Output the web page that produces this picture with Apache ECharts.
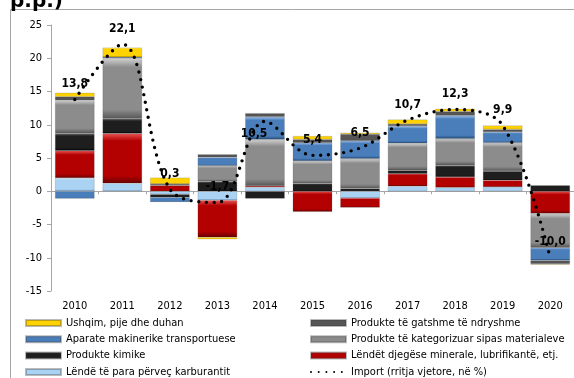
<!DOCTYPE html>
<html>
<head>
<meta charset="utf-8">
<script src="https://cdn.jsdelivr.net/npm/echarts@6/dist/echarts.min.js"></script>
<style>
  html, body { margin: 0; padding: 0; background: #ffffff; }
  #chart { width: 574px; height: 378px; }
</style>
</head>
<body>
<div id="chart"></div>
<script>
// Categories
const years = ['2010', '2011', '2012', '2013', '2014', '2015', '2016', '2017', '2018', '2019', '2020'];

// Contributions by product group (stacked from the bottom up in this order)
const lendeTePara   = [2.0, 1.2, -0.45, -1.35, 0.6, 0.0, -1.0, 0.75, 0.55, 0.65, 0.0];
const lendetDjegese = [4.1, 7.5, 0.85, -5.55, 0.2, -3.1, -1.45, 1.9, 1.6, 1.0, -3.35];
const produkteKimike = [2.6, 2.2, -0.45, 1.45, -1.1, 1.15, 0.4, 0.5, 1.75, 1.4, 0.9];
const produkteKategorizuar = [5.0, 9.1, 0.0, 2.4, 7.0, 3.4, 4.5, 4.05, 4.0, 4.25, -5.15];
const aparateMakinerike = [-1.1, 0.15, -0.7, 1.25, 3.4, 2.75, 2.7, 2.6, 3.5, 1.6, -1.9];
const produkteGatshme = [0.5, 0.0, 0.25, 0.45, 0.5, 0.5, 1.0, 0.3, 0.6, 0.4, -0.5];
const ushqimPije = [0.6, 1.45, 0.95, -0.3, 0.0, 0.5, 0.2, 0.7, 0.4, 0.6, -0.1];

// Annual import growth, %
const importRritja = [13.8, 22.1, 0.3, -1.7, 10.5, 5.4, 6.5, 10.7, 12.3, 9.9, -10.0];

// Axis ticks
const yMin = -15, yMax = 25, yStep = 5;

const FONT = '"DejaVu Sans Condensed", "DejaVu Sans", sans-serif';

function bevel(light, base, dark) {
  return {
    type: 'linear', x: 0, y: 0, x2: 0, y2: 1,
    colorStops: [
      { offset: 0, color: light },
      { offset: 0.15, color: base },
      { offset: 0.85, color: base },
      { offset: 1, color: dark }
    ]
  };
}

const groups = [
  { name: 'Lëndë të para përveç karburantit', data: lendeTePara, c: bevel('#e8f4ff', '#a9d2f3', '#6f98c0') },
  { name: 'Lëndët djegëse minerale, lubrifikantë, etj.', data: lendetDjegese, c: bevel('#ec5555', '#b30000', '#6a0000') },
  { name: 'Produkte kimike', data: produkteKimike, c: bevel('#707070', '#1e1e1e', '#000000') },
  { name: 'Produkte të kategorizuar sipas materialeve', data: produkteKategorizuar, c: bevel('#d2d2d2', '#8c8c8c', '#555555') },
  { name: 'Aparate makinerike transportuese', data: aparateMakinerike, c: bevel('#a2c4ee', '#4a7ebb', '#244b78') },
  { name: 'Produkte të gatshme të ndryshme', data: produkteGatshme, c: bevel('#9a9a9a', '#555555', '#2a2a2a') },
  { name: 'Ushqim, pije dhe duhan', data: ushqimPije, c: bevel('#fff596', '#ffd200', '#b08c00') }
];

const barSeries = groups.map(g => ({
  name: g.name,
  type: 'bar',
  stack: 'total',
  xAxisIndex: 0,
  barCategoryGap: '17%',
  data: g.data,
  itemStyle: { color: g.c, borderColor: 'rgba(60,60,60,0.35)', borderWidth: 0.5 },
  emphasis: { disabled: true }
}));

const labelCfg = importRritja.map((v, i) => {
  const item = { value: v };
  if (i === 4) {
    item.label = { position: 'bottom', distance: 6, offset: [-11, 0] };
  }
  return item;
});

const lineSeries = {
  name: 'Import (rritja vjetore, në %)',
  type: 'line',
  xAxisIndex: 0,
  smooth: 0.35,
  symbol: 'circle',
  symbolSize: 1,
  itemStyle: { color: 'rgba(0,0,0,0)' },
  lineStyle: { color: '#000000', width: 3.4, type: [0, 7.7], cap: 'round' },
  data: labelCfg,
  z: 5,
  label: {
    show: true,
    position: 'top',
    distance: 9,
    fontFamily: FONT,
    fontSize: 12,
    fontWeight: 'bold',
    color: '#000000',
    formatter: p => p.value.toFixed(1).replace('.', ',')
  },
  emphasis: { disabled: true }
};

const legendText = { fontFamily: FONT, fontSize: 11, color: '#000000', lineHeight: 14 };
const legendBase = {
  orient: 'vertical', top: 316, height: 70, padding: 0,
  itemWidth: 35, itemHeight: 6, itemGap: 2.3,
  textStyle: legendText
};

const chart = echarts.init(document.getElementById('chart'), null, { renderer: 'canvas' });
chart.setOption({
  animation: false,
  backgroundColor: '#ffffff',
  grid: { left: 51, top: 25, width: 527, height: 266, containLabel: false },
  xAxis: [
    {
      type: 'category',
      data: years,
      position: 'bottom',
      axisLine: { show: false, onZero: false },
      axisTick: { show: false },
      axisLabel: { fontFamily: FONT, fontSize: 11, color: '#000000', margin: 10, interval: 0 }
    },
    {
      type: 'category',
      data: years,
      position: 'top',
      axisLine: { show: true, onZero: true, lineStyle: { color: '#a6a6a6', width: 1 } },
      axisTick: { show: true, inside: true, length: 3, interval: 0, lineStyle: { color: '#a6a6a6' } },
      axisLabel: { show: false }
    }
  ],
  yAxis: {
    type: 'value',
    min: yMin,
    max: yMax,
    interval: yStep,
    axisLine: { show: true, lineStyle: { color: '#a6a6a6' } },
    axisTick: { show: true, length: 4, lineStyle: { color: '#a6a6a6' } },
    splitLine: { show: false },
    axisLabel: { fontFamily: FONT, fontSize: 11, color: '#000000', margin: 9 }
  },
  legend: [
    Object.assign({}, legendBase, {
      left: 25,
      data: [
        { name: 'Ushqim, pije dhe duhan', icon: 'rect' },
        { name: 'Aparate makinerike transportuese', icon: 'rect' },
        { name: 'Produkte kimike', icon: 'rect' },
        { name: 'Lëndë të para përveç karburantit', icon: 'rect' }
      ]
    }),
    Object.assign({}, legendBase, {
      left: 310,
      data: [
        { name: 'Produkte të gatshme të ndryshme', icon: 'rect' },
        { name: 'Produkte të kategorizuar sipas materialeve', icon: 'rect' },
        { name: 'Lëndët djegëse minerale, lubrifikantë, etj.', icon: 'rect' },
        { name: 'Import (rritja vjetore, në %)' }
      ]
    })
  ],
  graphic: [
    {
      type: 'rect', silent: true, z: -10,
      shape: { x: 10.5, y: 9.5, width: 700, height: 500 },
      style: { fill: 'none', stroke: '#a6a6a6', lineWidth: 1 }
    },
    {
      type: 'text', silent: true,
      style: { text: 'p.p.)', x: 10, y: 12, fill: '#000000', font: 'bold 20px "DejaVu Sans", sans-serif', textVerticalAlign: 'bottom' }
    }
  ],
  series: barSeries.concat([lineSeries])
});
</script>
</body>
</html>
